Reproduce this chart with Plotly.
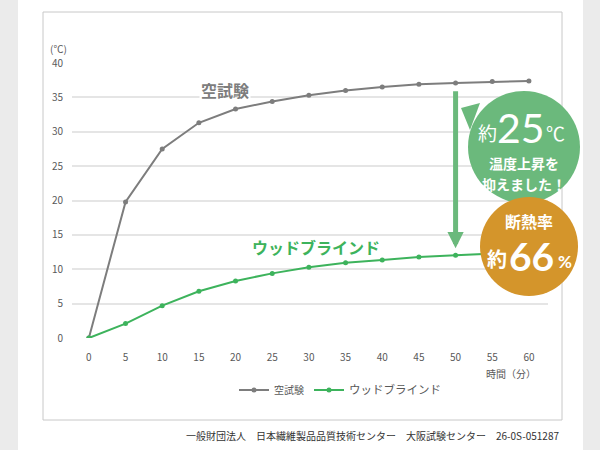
import plotly.graph_objects as go

minutes = [0, 5, 10, 15, 20, 25, 30, 35, 40, 45, 50, 55, 60]
blank_test = [0, 19.8, 27.5, 31.3, 33.3, 34.4, 35.3, 36.0, 36.5, 36.9, 37.1, 37.3, 37.4]
wood_blind = [0, 2.1, 4.7, 6.8, 8.3, 9.4, 10.3, 10.95, 11.35, 11.8, 12.05, 12.3, 12.5]
y_ticks = [0, 5, 10, 15, 20, 25, 30, 35, 40]

W, H = 600, 450
L, R, T, B = 72, 52, 63, 112
PW, PH = W - L - R, H - T - B

def px(x):
    return (x - L) / PW

def py(y):
    return (T + PH - y) / PH

FONT = "Noto Sans CJK JP"
NUMFONT = "Lato"
GRAY = "#7d7d7d"
GREEN = "#3db35c"
BUB_GREEN = "#6bb97c"
ORANGE = "#d4952b"

fig = go.Figure()
fig.add_trace(go.Scatter(x=minutes, y=blank_test, mode="lines+markers", name="空試験",
                         line=dict(color=GRAY, width=2), marker=dict(size=5, color=GRAY)))
fig.add_trace(go.Scatter(x=minutes, y=wood_blind, mode="lines+markers",
                         name="<span style='font-size:11.5px'>ウッドブラインド</span>",
                         line=dict(color=GREEN, width=2), marker=dict(size=5, color=GREEN)))

shapes = [
    dict(type="rect", xref="paper", yref="paper", x0=px(0), x1=px(18), y0=py(450), y1=py(0),
         fillcolor="#ebebeb", line_width=0, layer="below"),
    dict(type="rect", xref="paper", yref="paper", x0=px(583), x1=px(600), y0=py(450), y1=py(0),
         fillcolor="#ebebeb", line_width=0, layer="below"),
    dict(type="rect", xref="paper", yref="paper", x0=px(43), x1=px(562), y0=py(420), y1=py(12),
         line=dict(color="#c8c8c8", width=1), fillcolor="rgba(0,0,0,0)", layer="below"),
    # speech bubble (green)
    dict(type="circle", xref="paper", yref="paper", x0=px(468), x1=px(580), y0=py(203), y1=py(91),
         fillcolor=BUB_GREEN, line_width=0, layer="above"),
    dict(type="path", xref="paper", yref="paper",
         path=f"M {px(461)} {py(108)} L {px(480)} {py(103)} L {px(470)} {py(130)} Z",
         fillcolor=BUB_GREEN, line_width=0, layer="above"),
    # orange badge
    dict(type="circle", xref="paper", yref="paper", x0=px(480), x1=px(578), y0=py(296), y1=py(197),
         fillcolor=ORANGE, line_width=0, layer="above"),
]

def ann(x, y, text, size, color, xanchor="center", bg=None, family=FONT):
    d = dict(x=px(x), y=py(y), xref="paper", yref="paper", text=text, showarrow=False,
             xanchor=xanchor, yanchor="middle", font=dict(family=family, size=size, color=color),
             borderpad=0)
    if bg:
        d["bgcolor"] = bg
        d["borderpad"] = 1
    return d

annotations = [
    # arrow from blank test down to wood blind at 50 min
    dict(x=minutes[10], y=wood_blind[10] + 1.0, ax=minutes[10], ay=blank_test[10] - 1.0,
         xref="x", yref="y", axref="x", ayref="y", showarrow=True, arrowhead=2,
         arrowsize=0.65, arrowwidth=5, arrowcolor=BUB_GREEN, text=""),
    ann(225, 90, "<b>空試験</b>", 16, GRAY, bg="white"),
    ann(316, 247, "<b>ウッドブラインド</b>", 16, GREEN),
    ann(58, 49, "(℃)", 10, "#595959"),
    ann(537, 373, "時間（分）", 10, "#595959", xanchor="right"),
    ann(560, 435, "一般財団法人　日本繊維製品品質技術センター　大阪試験センター　26-0S-051287",
        10, "#333333", xanchor="right"),
    # green bubble text
    ann(487, 132, "約", 19, "white"),
    ann(521, 128, "25", 41, "white", family=NUMFONT),
    ann(555, 132, "℃", 19, "white"),
    ann(524, 163, "<b>温度上昇を</b>", 14, "white"),
    ann(524, 184, "<b>抑えました！</b>", 14, "white"),
    # orange badge text
    ann(529, 221, "<b>断熱率</b>", 16, "white"),
    ann(497, 258, "<b>約</b>", 20, "white"),
    ann(531, 256, "<b>66</b>", 39, "white", family=NUMFONT),
    ann(565, 261, "<b>%</b>", 17, "white", family=NUMFONT),
]

fig.update_layout(
    width=W, height=H,
    margin=dict(l=L, r=R, t=T, b=B),
    paper_bgcolor="white", plot_bgcolor="white",
    font=dict(family=FONT, size=11, color="#595959"),
    showlegend=True,
    legend=dict(orientation="h", x=px(340), xanchor="center", y=py(390), yanchor="middle",
                font=dict(family=FONT, size=10, color="#595959"), itemwidth=30,
                bgcolor="rgba(0,0,0,0)"),
    xaxis=dict(range=[-2.3, 62.6], tickmode="array", tickvals=minutes, ticks="",
               showgrid=False, zeroline=False, showline=False, ticklabelstandoff=12,
               tickfont=dict(size=10, color="#595959")),
    yaxis=dict(range=[0, 40], tickmode="array", tickvals=y_ticks, ticks="",
               showgrid=True, gridcolor="#e5e5e5", gridwidth=1.5, zeroline=False,
               showline=False, ticklabelstandoff=8, tickfont=dict(size=10, color="#595959")),
    shapes=shapes,
    annotations=annotations,
)

fig.write_html("out.html")
